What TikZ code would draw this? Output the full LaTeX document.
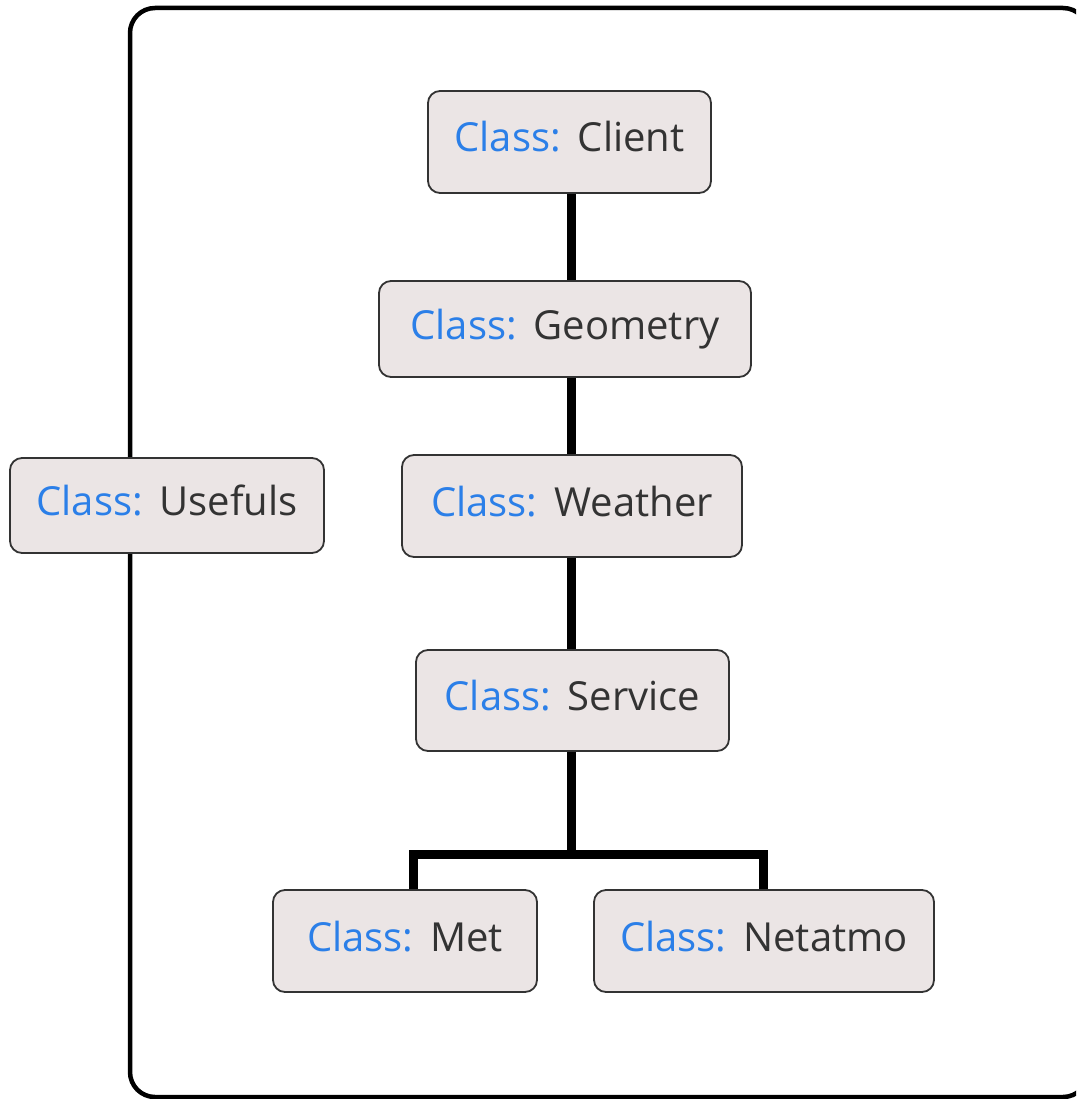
\documentclass[tikz,border=0pt]{standalone}
\usepackage{fontspec}
\setmainfont{Open Sans}
\definecolor{clsblue}{HTML}{2B7FE8}
\definecolor{clstext}{HTML}{333333}
\definecolor{boxfill}{HTML}{EBE5E5}
\definecolor{boxline}{HTML}{333333}
\newcommand{\clsname}[1]{{\color{clsblue}Class:}\hspace{0.42em}#1}
\tikzset{
  clsbox/.style={draw=boxline, fill=boxfill, line width=1.8pt,
    rounded corners=12pt, inner sep=0pt, text=clstext,
    text height=30pt, text depth=10pt,
    font=\fontsize{40}{46}\selectfont},
  link/.style={line width=9pt, black, line join=miter},
  frame/.style={line width=4.5pt, black, rounded corners=25pt}
}
\begin{document}
\begin{tikzpicture}[x=1pt, y=-1pt]
\useasboundingbox (0,0) rectangle (1076,1099);
\clip (0,0) rectangle (1076,1099);

% package frame
\draw[frame] (130,8) rectangle (1088,1097);

% classes
\node[clsbox, minimum width=283pt, minimum height=102pt] (client)   at (569.5,142)  {\clsname{Client}};
\node[clsbox, minimum width=372pt, minimum height=96pt]  (geometry) at (565,329)    {\clsname{Geometry}};
\node[clsbox, minimum width=340pt, minimum height=102pt] (weather)  at (572,506)    {\clsname{Weather}};
\node[clsbox, minimum width=313pt, minimum height=101pt] (service)  at (572.5,700.5){\clsname{Service}};
\node[clsbox, minimum width=264pt, minimum height=102pt] (met)      at (405,941)    {\clsname{Met}};
\node[clsbox, minimum width=340pt, minimum height=102pt] (netatmo)  at (764,941)    {\clsname{Netatmo}};
\node[clsbox, minimum width=314pt, minimum height=95pt]  (usefuls)  at (167,505.5)  {\clsname{Usefuls}};

% connectors
\coordinate (spine) at (571,0);
\coordinate (bus) at (571,854);
\coordinate (metdrop) at (413,854);
\coordinate (netdrop) at (763.5,854);

\draw[link] (client.south -| spine) -- (geometry.north -| spine);
\draw[link] (geometry.south -| spine) -- (weather.north -| spine);
\draw[link] (weather.south -| spine) -- (service.north -| spine);
\draw[link] (service.south -| spine) -- (bus);
\draw[link] (met.north -| metdrop) -- (metdrop) -- (netdrop) -- (netatmo.north -| netdrop);
\end{tikzpicture}
\end{document}
